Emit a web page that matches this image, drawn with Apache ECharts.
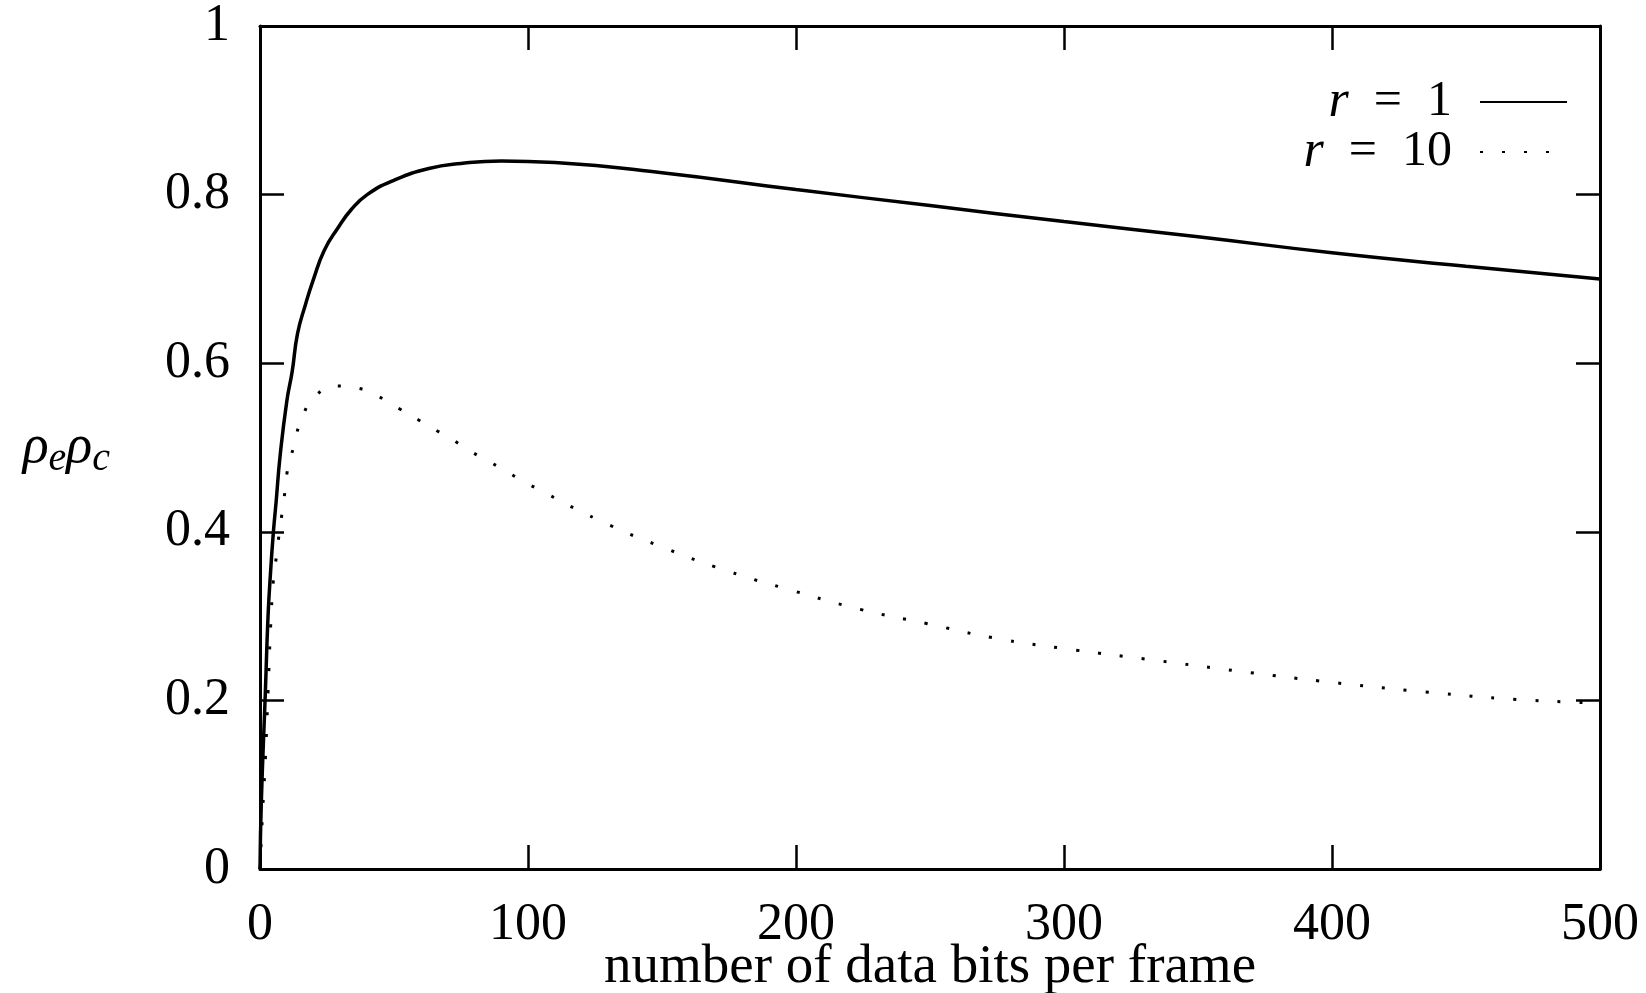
<!DOCTYPE html>
<html>
<head>
    <meta charset="utf-8">
    <title>rho_e rho_c vs bits per frame</title>
    <script src="https://cdn.jsdelivr.net/npm/echarts@6/dist/echarts.min.js"></script>
</head>
<body style="margin:0; background:#fff;">
    <div id="div_main" style="width: 1646px; height: 993px;"></div>

    <script type="text/javascript">
        // r = 1, solid curve
        var bitsR1 = [0, 0.5, 2, 3, 4, 5, 6, 7.5, 10, 12, 14, 17, 20, 24, 29, 34, 40, 50, 63, 75, 90, 110,
                      150, 200, 250, 300, 350, 400, 450, 500];
        var effR1 = [0, 0.08, 0.21, 0.30, 0.355, 0.40, 0.435, 0.49, 0.555, 0.59, 0.635, 0.67, 0.70, 0.734, 0.76, 0.782, 0.80, 0.817, 0.831, 0.837, 0.840, 0.838,
                     0.826, 0.806, 0.787, 0.768, 0.750, 0.731, 0.715, 0.700];

        // r = 10, dotted curve
        var bitsR10 = [0, 1, 2, 3, 4, 5, 6, 7, 8, 9.4, 10.2, 12.4, 16, 21, 28, 37, 44.5, 52, 59, 66.5, 74, 81, 88.5, 96, 103.5,
                       127, 150, 174, 199, 224, 249, 274, 299, 333, 367, 401, 435, 469, 500];
        var effR10 = [0, 0.07, 0.13, 0.21, 0.29, 0.343, 0.368, 0.394, 0.417, 0.45, 0.472, 0.499, 0.538, 0.562, 0.573, 0.570, 0.560, 0.546, 0.533, 0.519, 0.505, 0.491, 0.478, 0.464, 0.451,
                       0.413, 0.382, 0.354, 0.330, 0.308, 0.291, 0.274, 0.262, 0.248, 0.234, 0.221, 0.210, 0.201, 0.197];

        var xTicks = [0, 100, 200, 300, 400, 500];
        var yTicks = [0, 0.2, 0.4, 0.6, 0.8, 1];

        function pairs(xs, ys) {
            return xs.map(function (x, i) { return [x, ys[i]]; });
        }

        var serif = 'Liberation Serif';
        var tickStyle = { show: true, inside: true, length: 24, lineStyle: { color: '#000', width: 2.5 } };
        var frameLine = { show: true, onZero: false, lineStyle: { color: '#000', width: 3 } };

        var myChart = echarts.init(document.getElementById('div_main'));
        myChart.setOption({
            backgroundColor: '#fff',
            animation: false,
            grid: { left: 260, right: 46, top: 26, bottom: 124, containLabel: false, outerBoundsMode: 'none' },
            legend: {
                orient: 'vertical',
                align: 'right',
                right: 73,
                top: 71,
                itemWidth: 87,
                itemHeight: 20,
                itemGap: -2,
                itemStyle: { opacity: 0 },
                data: ['r = 1', 'r = 10'],
                formatter: function (name) {
                    return '{r|r}{n|' + name.slice(1).replace(/ /g, '\u2002') + '}';
                },
                textStyle: {
                    lineHeight: 40,
                    rich: {
                        r: { fontFamily: serif, fontStyle: 'italic', fontSize: 52, lineHeight: 40, color: '#000' },
                        n: { fontFamily: serif, fontSize: 50, lineHeight: 40, color: '#000', padding: [0, 23, 0, 0] }
                    }
                }
            },
            xAxis: [{
                type: 'value',
                min: 0, max: 500, interval: 100,
                name: 'number of data bits per frame',
                nameLocation: 'middle',
                nameGap: 71,
                nameMoveOverlap: false,
                nameTextStyle: { fontFamily: serif, fontSize: 55, color: '#000' },
                axisLine: frameLine,
                axisTick: tickStyle,
                splitLine: { show: false },
                axisLabel: {
                    margin: 30, fontFamily: serif, fontSize: 52, color: '#000',
                    formatter: function (v) { return xTicks.indexOf(v) >= 0 ? String(v) : ''; }
                }
            }, {
                type: 'value', position: 'top',
                min: 0, max: 500, interval: 100,
                axisLine: frameLine,
                axisTick: tickStyle,
                axisLabel: { show: false },
                splitLine: { show: false }
            }],
            yAxis: [{
                type: 'value',
                min: 0, max: 1, interval: 0.2,
                name: '{g|ρ}{s|e}{g|ρ}{s|c}',
                nameLocation: 'middle',
                nameRotate: 0,
                nameGap: 150,
                nameMoveOverlap: false,
                nameTextStyle: {
                    rich: {
                        g: { fontFamily: serif, fontStyle: 'italic', fontSize: 54, color: '#000' },
                        s: { fontFamily: serif, fontStyle: 'italic', fontSize: 40, color: '#000', padding: [24, 0, 0, 0] }
                    }
                },
                axisLine: frameLine,
                axisTick: tickStyle,
                splitLine: { show: false },
                axisLabel: {
                    margin: 30, fontFamily: serif, fontSize: 52, color: '#000',
                    formatter: function (v) {
                        var t = Math.round(v * 10) / 10;
                        return yTicks.indexOf(t) >= 0 ? String(t) : '';
                    }
                }
            }, {
                type: 'value', position: 'right',
                min: 0, max: 1, interval: 0.2,
                axisLine: frameLine,
                axisTick: tickStyle,
                axisLabel: { show: false },
                splitLine: { show: false }
            }],
            series: [{
                name: 'r = 1',
                type: 'line',
                smooth: true,
                symbol: 'none',
                lineStyle: { color: '#000', width: 3.5 },
                itemStyle: { color: '#000' },
                data: pairs(bitsR1, effR1)
            }, {
                name: 'r = 10',
                type: 'line',
                smooth: true,
                symbol: 'none',
                lineStyle: { color: '#000', width: 3, type: [3, 19], cap: 'butt' },
                itemStyle: { color: '#000' },
                data: pairs(bitsR10, effR10)
            }]
        });
    </script>
</body>
</html>
